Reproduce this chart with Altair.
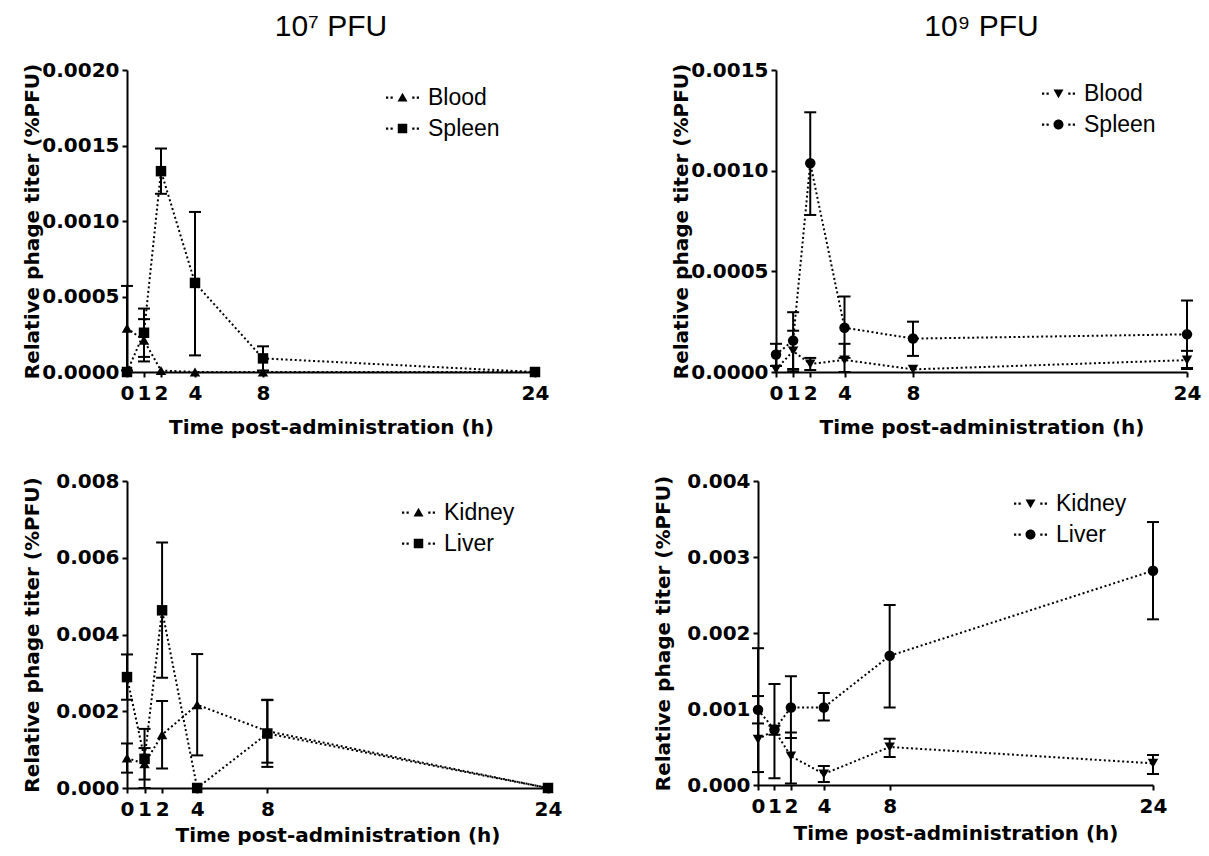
import altair as alt
import pandas as pd

FONT = "Liberation Sans"
BOLD_FONT = "DejaVu Sans"

time_h = [0, 1, 2, 4, 8, 24]
x_ticks = [0, 1, 2, 4, 8, 24]

# ---- 10^7 PFU : Blood / Spleen ----
blood7 = [0.00029, 0.00021, 0.00001, 0.0, 0.0, 0.0]
blood7_lo = [0.00001, 0.00007, 0.00001, 0.0, 0.0, 0.0]
blood7_hi = [0.00057, 0.00035, 0.00001, 0.0, 0.0, 0.0]
spleen7 = [0.0, 0.00026, 0.00133, 0.00059, 0.00009, 0.0]
spleen7_lo = [0.0, 0.00010, 0.00118, 0.00011, 0.00001, 0.0]
spleen7_hi = [0.0, 0.00042, 0.00148, 0.00106, 0.00017, 0.0]

# ---- 10^9 PFU : Blood / Spleen ----
blood9 = [0.000013, 0.000104, 0.00004, 0.00006, 0.000013, 0.000059]
blood9_lo = [0.000013, 0.000004, 0.00001, 0.0, 0.000013, 0.000015]
blood9_hi = [0.000013, 0.000205, 0.00007, 0.00014, 0.000013, 0.000105]
spleen9 = [0.000087, 0.000156, 0.001037, 0.00022, 0.000166, 0.000187]
spleen9_lo = [0.00003, 0.000015, 0.00078, 0.00007, 0.00008, 0.00002]
spleen9_hi = [0.00014, 0.000297, 0.00129, 0.000375, 0.00025, 0.000355]

# ---- 10^7 PFU : Kidney / Liver ----
kidney7 = [0.00078, 0.00063, 0.00139, 0.00217, 0.00148, 0.0]
kidney7_lo = [0.00040, 0.00022, 0.00051, 0.00085, 0.00066, 0.0]
kidney7_hi = [0.00116, 0.00104, 0.00227, 0.00349, 0.00230, 0.0]
liver7 = [0.00289, 0.00076, 0.00463, 0.0, 0.00142, 0.0]
liver7_lo = [0.00230, 0.0, 0.00287, 0.0, 0.00055, 0.0]
liver7_hi = [0.00348, 0.00154, 0.00640, 0.0, 0.00229, 0.0]

# ---- 10^9 PFU : Kidney / Liver ----
kidney9 = [0.00060, 0.00072, 0.00038, 0.000145, 0.00050, 0.000285]
kidney9_lo = [0.00017, 0.00066, 0.00002, 0.00004, 0.00037, 0.000145]
kidney9_hi = [0.00180, 0.00078, 0.00069, 0.00025, 0.00061, 0.000395]
liver9 = [0.00099, 0.00073, 0.00102, 0.00102, 0.00170, 0.00282]
liver9_lo = [0.00081, 0.00009, 0.00062, 0.00085, 0.00102, 0.00218]
liver9_hi = [0.00117, 0.00133, 0.00143, 0.00121, 0.00237, 0.00346]

# legend symbols: marker with dotted line stubs on both sides
DOTS = ("M-3.3,-0.2h0.45v0.45h-0.45Z M-2.4,-0.2h0.45v0.45h-0.45Z "
        "M1.95,-0.2h0.45v0.45h-0.45Z M2.85,-0.2h0.45v0.45h-0.45Z ")
LEG_TRI_UP = DOTS + "M0,-0.95L1,0.8L-1,0.8Z"
LEG_TRI_DOWN = DOTS + "M0,0.95L1,-0.8L-1,-0.8Z"
LEG_SQUARE = DOTS + "M-0.95,-0.95H0.95V0.95H-0.95Z"
LEG_CIRCLE = DOTS + "M1,0A1,1 0 1,1 -1,0A1,1 0 1,1 1,0Z"


def make_df(names, vals, los, his):
    rows = []
    for name, v, lo, hi in zip(names, vals, los, his):
        for t, a, b, c in zip(time_h, v, lo, hi):
            rows.append({"t": t, "series": name, "val": a, "lo": b, "hi": c})
    return pd.DataFrame(rows)


def panel(names, shapes, leg_paths, vals, los, his, ymax, ystep, yfmt,
          width, height, legx, legy, xtitle_pad, title=None):
    df = make_df(names, vals, los, his)
    base = alt.Chart(df)
    nsteps = int(round(ymax / ystep))
    yvals = [round(i * ystep, 6) for i in range(nsteps + 1)]
    xenc = alt.X("t:Q", scale=alt.Scale(domain=[0, 24], nice=False, zero=False),
                 axis=alt.Axis(values=x_ticks, title="Time post-administration (h)",
                               format="d", titlePadding=xtitle_pad))
    yenc = alt.Y("val:Q", scale=alt.Scale(domain=[0, ymax], nice=False),
                 axis=alt.Axis(values=yvals, format=yfmt, title="Relative phage titer (%PFU)"))
    line = base.mark_line(color="black", strokeDash=[2, 2.6], strokeWidth=2).encode(
        x=xenc, y=yenc, detail="series:N")
    bars = base.transform_filter("datum.hi > datum.lo").mark_rule(
        color="black", strokeWidth=2).encode(x="t:Q", y="lo:Q", y2="hi:Q")
    cap_hi = base.transform_filter("datum.hi > datum.val").mark_tick(
        color="black", orient="horizontal", size=12, thickness=2, opacity=1).encode(
        x="t:Q", y="hi:Q")
    cap_lo = base.transform_filter("datum.lo < datum.val").mark_tick(
        color="black", orient="horizontal", size=12, thickness=2, opacity=1).encode(
        x="t:Q", y="lo:Q")
    pts = base.mark_point(filled=True, size=110, color="black", opacity=1).encode(
        x="t:Q", y="val:Q",
        shape=alt.Shape("series:N", scale=alt.Scale(domain=names, range=shapes), legend=None))
    leg = base.transform_filter("false").mark_point(
        filled=True, color="black", opacity=1).encode(
        x="t:Q", y="val:Q",
        shape=alt.Shape("series:N", scale=alt.Scale(domain=names, range=leg_paths),
                        legend=alt.Legend(title=None, orient="none", legendX=legx, legendY=legy,
                                          labelFont=FONT, labelFontSize=23, labelColor="black",
                                          symbolSize=100, symbolFillColor="black",
                                          symbolStrokeColor="black", symbolStrokeWidth=0,
                                          labelOffset=14, rowPadding=7, padding=0)))
    ch = alt.layer(line, bars, cap_hi, cap_lo, pts, leg).resolve_scale(
        shape="independent").properties(width=width, height=height)
    if title is not None:
        ch = ch.properties(title=alt.Title(title, anchor="middle", frame="group"))
    return ch


p1 = panel(["Blood", "Spleen"], ["triangle-up", "square"], [LEG_TRI_UP, LEG_SQUARE],
           [blood7, spleen7], [blood7_lo, spleen7_lo], [blood7_hi, spleen7_hi],
           0.002, 0.0005, ".4f", 408, 302, 264, 16, 14, "10\u2077 PFU")
p2 = panel(["Blood", "Spleen"], ["triangle-down", "circle"], [LEG_TRI_DOWN, LEG_CIRCLE],
           [blood9, spleen9], [blood9_lo, spleen9_lo], [blood9_hi, spleen9_hi],
           0.0015, 0.0005, ".4f", 411, 302, 271, 12, 14, "10\u2079 PFU")
p3 = panel(["Kidney", "Liver"], ["triangle-up", "square"], [LEG_TRI_UP, LEG_SQUARE],
           [kidney7, liver7], [kidney7_lo, liver7_lo], [kidney7_hi, liver7_hi],
           0.008, 0.002, ".3f", 421, 307, 280, 20, 6)
p4 = panel(["Kidney", "Liver"], ["triangle-down", "circle"], [LEG_TRI_DOWN, LEG_CIRCLE],
           [kidney9, liver9], [kidney9_lo, liver9_lo], [kidney9_hi, liver9_hi],
           0.004, 0.001, ".3f", 395, 304, 261, 11, 7)

row1 = alt.hconcat(p1, p2, spacing=122).resolve_scale(shape="independent")
row2 = alt.hconcat(p3, p4, spacing=91).resolve_scale(shape="independent")

chart = alt.vconcat(row1, row2, spacing=34).resolve_scale(
    shape="independent"
).properties(
    padding={"left": 14, "top": 4, "right": 0, "bottom": 0}
).configure(
    background="white"
).configure_view(
    stroke=None
).configure_axis(
    domainColor="black", domainWidth=2, tickColor="black", tickWidth=2, tickSize=5,
    labelFont=BOLD_FONT, labelFontSize=20, labelFontWeight="bold", labelColor="black",
    titleFont=BOLD_FONT, titleFontSize=20, titleFontWeight="bold", titleColor="black",
    grid=False, labelFlush=False, labelOverlap=False
).configure_axisY(
    minExtent=85, maxExtent=85, titlePadding=0, labelPadding=3
).configure_axisX(
    labelPadding=6
).configure_title(
    font=FONT, fontSize=30, fontWeight="normal", color="black", offset=18
)

chart.save("out.html", embed_options={"renderer": "svg", "actions": False})
